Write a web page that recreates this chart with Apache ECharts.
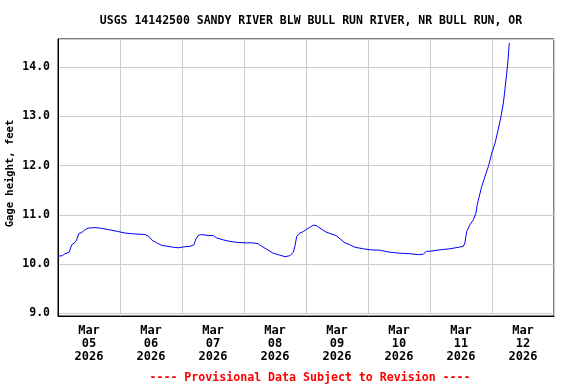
<!DOCTYPE html>
<html><head><meta charset="utf-8">
<script src="https://cdn.jsdelivr.net/npm/echarts@6/dist/echarts.min.js"></script>
<style>html,body{margin:0;padding:0;background:#fff}#c{width:576px;height:384px}</style>
</head><body><div id="c"></div>
<script>
const titleText = 'USGS 14142500 SANDY RIVER BLW BULL RUN RIVER, NR BULL RUN, OR';
const footerText = '---- Provisional Data Subject to Revision ----';
const yAxisName = 'Gage height, feet';
const dayLabels = ['Mar\n05\n2026','Mar\n06\n2026','Mar\n07\n2026','Mar\n08\n2026','Mar\n09\n2026','Mar\n10\n2026','Mar\n11\n2026','Mar\n12\n2026'];
// hours since 2026-03-05 00:00
const hours = [0,1.7,2.7,4.3,5.3,6.6,7.2,8.1,9.2,10.5,11.7,14.3,16.3,19.5,23.3,25.9,29.8,33.7,35.2,36.3,38.2,40.1,43.4,46.6,48.9,51.1,52.6,53.4,54.3,55.6,58.2,60.1,61.4,64,66.6,69.2,73,75.6,77.5,78.9,80.8,83.3,85.3,87.9,89.8,91.1,91.7,92.4,93.3,95,96.3,97.3,98.8,100.1,101.4,103.4,105.3,107.6,109.2,111.1,113,115,118.2,120.8,124.6,128.5,132.4,136.3,139.5,141.4,142.7,144,147.9,151.7,155,156.9,157.5,158.2,159.5,160.8,161.8,162.3,163.1,164.0,165.3,166.6,167.9,169.2,170.4,171.5,172.4,173.0,173.7,174.1,174.7];
const gage = [10.16,10.17,10.21,10.24,10.39,10.44,10.49,10.62,10.64,10.70,10.73,10.74,10.73,10.70,10.66,10.63,10.61,10.60,10.56,10.49,10.43,10.38,10.35,10.33,10.35,10.36,10.39,10.51,10.58,10.60,10.58,10.58,10.53,10.49,10.46,10.44,10.43,10.43,10.41,10.36,10.30,10.22,10.19,10.15,10.17,10.24,10.36,10.56,10.62,10.66,10.71,10.74,10.79,10.78,10.73,10.66,10.62,10.58,10.51,10.43,10.39,10.34,10.31,10.29,10.28,10.24,10.22,10.21,10.19,10.20,10.26,10.26,10.29,10.31,10.34,10.36,10.43,10.66,10.80,10.90,11.04,11.21,11.38,11.57,11.78,11.98,12.25,12.46,12.73,13.0,13.27,13.54,13.88,14.08,14.49];

const font = 'DejaVu Sans Mono';
const chart = echarts.init(document.getElementById('c'), null, {renderer:'canvas'});
chart.setOption({
  animation: false,
  backgroundColor: '#fff',
  title: [
    {text: titleText, left: 306, top: 10, textAlign: 'center',
     textStyle: {fontFamily: font, fontWeight: 'bold', fontSize: 11.5, color: '#000'}},
    {text: footerText, left: 305, top: 367, textAlign: 'center',
     textStyle: {fontFamily: font, fontWeight: 'bold', fontSize: 11.6, color: '#ff0000'}}
  ],
  grid: {left: 58, top: 39, right: 22, bottom: 68, show: true, borderColor: '#000', borderWidth: 1, backgroundColor: '#fff', containLabel: false, outerBoundsMode: 'none'},
  xAxis: [
    {type: 'value', min: 0, max: 192, interval: 24,
     axisLine: {show: true, lineStyle: {color: '#000', width: 1}},
     axisTick: {show: false}, axisLabel: {show: false},
     splitLine: {show: true, lineStyle: {color: '#cccccc', width: 1}}},
    {type: 'category', data: dayLabels, boundaryGap: true, position: 'bottom',
     axisLine: {show: false}, axisTick: {show: false}, splitLine: {show: false},
     axisLabel: {interval: 0, margin: 8, fontFamily: font, fontWeight: 'bold', fontSize: 12, lineHeight: 13.2, color: '#000'}}
  ],
  yAxis: [
    {type: 'value', min: 8.945, max: 14.57, splitNumber: 5,
     name: yAxisName, nameLocation: 'middle', nameGap: 42, nameRotate: 90, nameMoveOverlap: false,
     nameTextStyle: {fontFamily: font, fontWeight: 'bold', fontSize: 10.5, color: '#000', padding: [0, 0, 0, 8]},
     axisLine: {show: true, lineStyle: {color: '#000', width: 1}},
     axisTick: {show: false},
     axisLabel: {margin: 8, fontFamily: font, fontWeight: 'bold', fontSize: 11.5, color: '#000',
       formatter: v => Math.abs(v - Math.round(v)) < 1e-6 ? v.toFixed(1) : ''},
     splitLine: {show: true, lineStyle: {color: '#cccccc', width: 1}}}
  ],
  series: [{
    type: 'line', xAxisIndex: 0, yAxisIndex: 0,
    data: hours.map((h, i) => [h, gage[i]]),
    showSymbol: false, symbol: 'none',
    lineStyle: {color: '#0000ff', width: 1}, itemStyle: {color: '#0000ff'}, z: 3
  }]
});
</script></body></html>
